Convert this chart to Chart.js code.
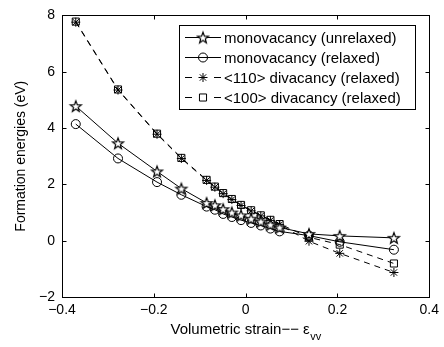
<!DOCTYPE html>
<html><head><meta charset="utf-8">
<script src="https://cdn.jsdelivr.net/npm/chart.js@4/dist/chart.umd.min.js"></script>
<style>html,body{margin:0;padding:0;background:#fff}#wrap{width:444px;height:347px}</style>
</head><body><div id="wrap"><canvas id="c" width="444" height="347"></canvas></div>
<script>
const strain = [-0.37, -0.278, -0.193, -0.14, -0.085, -0.067, -0.049, -0.03, -0.01, 0.012, 0.033, 0.054, 0.074, 0.138, 0.205, 0.323];
const monoUnrelaxed = [4.78, 3.46, 2.46, 1.85, 1.34, 1.26, 1.12, 1.0, 0.9, 0.78, 0.68, 0.57, 0.47, 0.24, 0.17, 0.10];
const monoRelaxed = [4.14, 2.92, 2.08, 1.63, 1.21, 1.10, 0.95, 0.84, 0.73, 0.63, 0.54, 0.43, 0.33, 0.18, -0.04, -0.32];
const di110 = [7.76, 5.35, 3.78, 2.92, 2.14, 1.90, 1.67, 1.46, 1.25, 1.06, 0.88, 0.72, 0.57, -0.02, -0.45, -1.13];
const di100 = [7.78, 5.37, 3.80, 2.94, 2.16, 1.92, 1.69, 1.48, 1.27, 1.08, 0.90, 0.74, 0.59, 0.12, -0.14, -0.81];
const seriesLabels = ['monovacancy (unrelaxed)', 'monovacancy (relaxed)', '<110> divacancy (relaxed)', '<100> divacancy (relaxed)'];
const xTicks = [-0.4, -0.2, 0, 0.2, 0.4];
const yTicks = [-2, 0, 2, 4, 6, 8];
const xTitle = 'Volumetric strain\u2212\u2212 \u03b5';
const xTitleSub = 'vv';
const yTitle = 'Formation energies (eV)';

const FONT = '"Liberation Sans", Arial, Helvetica, sans-serif';

// pentagram marker image (outline)
function makePentagram(r) {
  const s = 2 * Math.ceil(r + 2);
  const cv = document.createElement('canvas');
  cv.width = s; cv.height = s;
  const c = cv.getContext('2d');
  const cx = s / 2, cy = s / 2 + 0.6;
  c.beginPath();
  for (let i = 0; i < 10; i++) {
    const rad = i % 2 === 0 ? r : r * 0.42;
    const ang = -Math.PI / 2 + i * Math.PI / 5;
    const px = cx + rad * Math.cos(ang), py = cy + rad * Math.sin(ang);
    if (i === 0) c.moveTo(px, py); else c.lineTo(px, py);
  }
  c.closePath();
  c.fillStyle = '#fff';
  c.fill();
  c.strokeStyle = '#000';
  c.lineJoin = 'miter';
  c.lineWidth = 1.2;
  c.stroke();
  return cv;
}
const pentagram = makePentagram(5.8);

const pts = arr => strain.map((x, i) => ({x: x, y: arr[i]}));
const fmt = v => (v === 0 ? '0' : String(v).replace('-', '\u2212'));

const datasets = [
  {label: seriesLabels[0], data: pts(monoUnrelaxed), borderColor: '#000', borderWidth: 1,
   pointStyle: pentagram, pointRadius: 6, pointBorderColor: '#000', pointBackgroundColor: '#fff'},
  {label: seriesLabels[1], data: pts(monoRelaxed), borderColor: '#000', borderWidth: 1,
   pointStyle: 'circle', pointRadius: 4.5, pointBorderWidth: 1, pointBorderColor: '#000', pointBackgroundColor: 'rgba(255,255,255,0)'},
  {label: seriesLabels[2], data: pts(di110), borderColor: '#000', borderWidth: 1, borderDash: [6, 5],
   pointStyle: 'star', pointRadius: 4.5, pointBorderWidth: 1, pointBorderColor: '#000', pointBackgroundColor: '#000'},
  {label: seriesLabels[3], data: pts(di100), borderColor: '#000', borderWidth: 1, borderDash: [6, 5],
   pointStyle: 'rect', pointRadius: 5, pointBorderWidth: 1, pointBorderColor: '#000', pointBackgroundColor: 'rgba(255,255,255,0)'}
];

const matlabPlugin = {
  id: 'matlab',
  afterDraw(chart) {
    const {ctx, chartArea: a, scales: {x, y}} = chart;
    ctx.save();
    ctx.strokeStyle = '#000';
    ctx.lineWidth = 1;
    ctx.setLineDash([]);
    const L = Math.round(a.left) + 0.5, R = Math.round(a.right) + 0.5;
    const T = Math.round(a.top) + 0.5, B = Math.round(a.bottom) + 0.5;
    ctx.strokeRect(L, T, R - L, B - T);
    const tl = 4;
    ctx.beginPath();
    xTicks.forEach(v => {
      const px = Math.round(x.getPixelForValue(v)) + 0.5;
      ctx.moveTo(px, B); ctx.lineTo(px, B - tl);
      ctx.moveTo(px, T); ctx.lineTo(px, T + tl);
    });
    yTicks.forEach(v => {
      const py = Math.round(y.getPixelForValue(v)) + 0.5;
      ctx.moveTo(L, py); ctx.lineTo(L + tl, py);
      ctx.moveTo(R, py); ctx.lineTo(R - tl, py);
    });
    ctx.stroke();

    // legend
    const lx0 = 179.5, ly0 = 25.5, lx1 = 415.5, ly1 = 109.5;
    ctx.fillStyle = '#fff';
    ctx.fillRect(lx0, ly0, lx1 - lx0, ly1 - ly0);
    ctx.strokeRect(lx0, ly0, lx1 - lx0, ly1 - ly0);
    ctx.font = '15px ' + FONT;
    ctx.textBaseline = 'middle';
    ctx.textAlign = 'left';
    chart.data.datasets.forEach((ds, i) => {
      const ry = 37.5 + i * 20;
      ctx.beginPath();
      if (ds.borderDash) {
        ctx.moveTo(185, ry); ctx.lineTo(192, ry);
        ctx.moveTo(214, ry); ctx.lineTo(221, ry);
      } else {
        ctx.moveTo(185, ry); ctx.lineTo(221, ry);
      }
      ctx.stroke();
      ctx.fillStyle = 'rgba(255,255,255,0)';
      Chart.helpers.drawPoint(ctx, {
        pointStyle: ds.pointStyle, radius: ds.pointRadius, rotation: 0, borderWidth: 1
      }, 203, ry);
      ctx.fillStyle = '#000';
      ctx.fillText(ds.label, 224, ry + 1);
    });

    // x title with subscript
    ctx.fillStyle = '#000';
    ctx.font = '15px ' + FONT;
    const w1 = ctx.measureText(xTitle).width;
    ctx.font = '11px ' + FONT;
    const w2 = ctx.measureText(xTitleSub).width;
    const cx = (a.left + a.right) / 2;
    const sx = cx - (w1 + w2) / 2;
    ctx.textBaseline = 'alphabetic';
    ctx.font = '15px ' + FONT;
    ctx.fillText(xTitle, sx, 334);
    ctx.font = '11px ' + FONT;
    ctx.fillText(xTitleSub, sx + w1 + 0.5, 340);
    ctx.restore();
  }
};

new Chart(document.getElementById('c'), {
  type: 'scatter',
  data: {datasets: datasets.map(d => Object.assign({showLine: true, fill: false, tension: 0}, d))},
  options: {
    responsive: false,
    animation: false,
    devicePixelRatio: 1,
    layout: {padding: {top: 11, right: 14, left: 0, bottom: 0}},
    plugins: {legend: {display: false}, tooltip: {enabled: false}},
    scales: {
      x: {
        type: 'linear', min: -0.4, max: 0.4,
        afterBuildTicks: s => { s.ticks = xTicks.map(v => ({value: v})); },
        afterFit: s => { s.height = 50; },
        grid: {display: false, drawTicks: false},
        border: {display: false},
        ticks: {color: '#000', font: {size: 14, family: FONT}, padding: 5, maxRotation: 0, autoSkip: false, callback: v => fmt(v)}
      },
      y: {
        type: 'linear', min: -2, max: 8,
        afterBuildTicks: s => { s.ticks = yTicks.map(v => ({value: v})); },
        afterFit: s => { s.width = 62; },
        grid: {display: false, drawTicks: false},
        border: {display: false},
        title: {display: true, text: yTitle, color: '#000', font: {size: 14, family: FONT}, padding: {top: 13, bottom: 0}},
        ticks: {color: '#000', font: {size: 14, family: FONT}, padding: 7, autoSkip: false, callback: v => fmt(v)}
      }
    }
  },
  plugins: [matlabPlugin]
});
</script>
</body></html>
